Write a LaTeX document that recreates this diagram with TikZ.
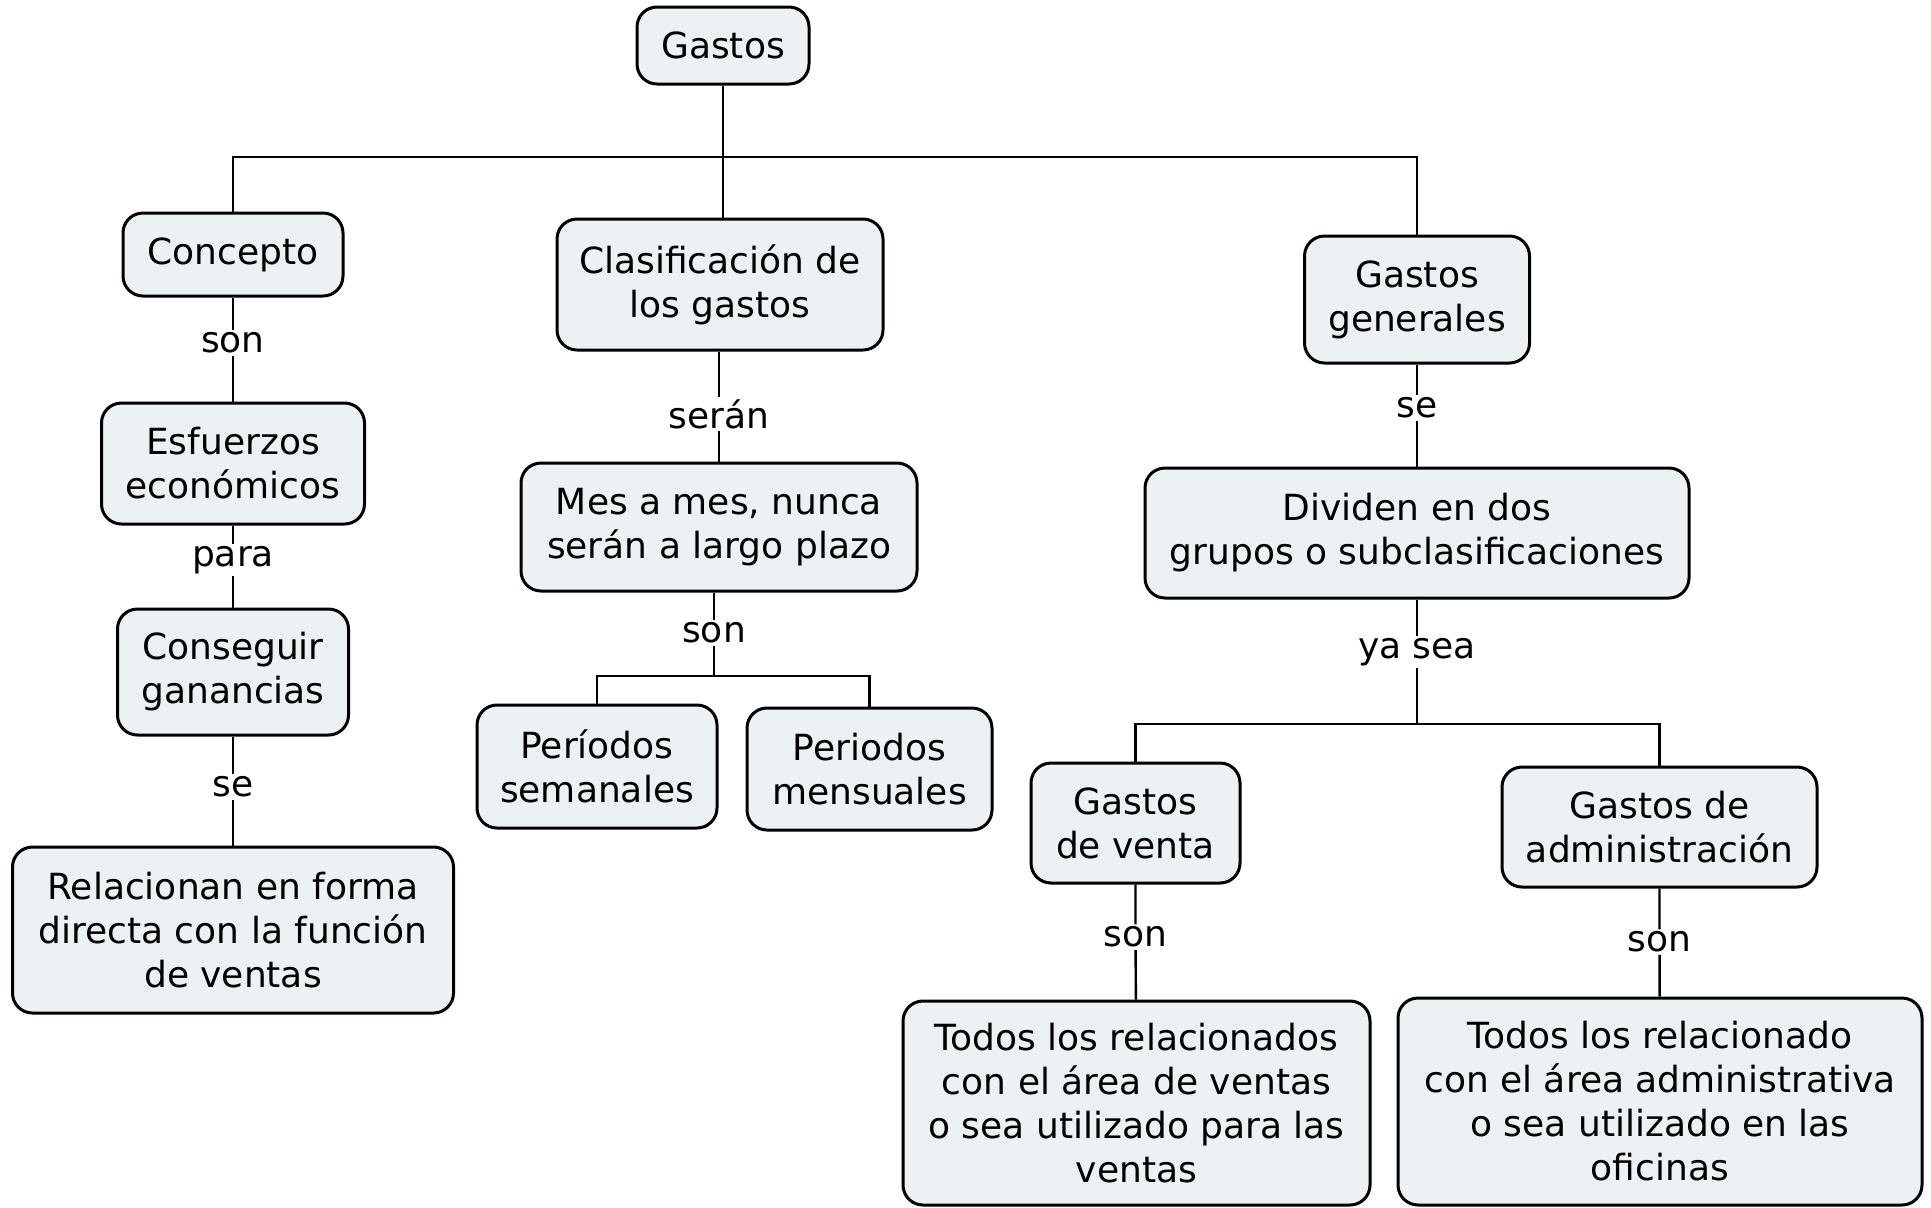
\documentclass[tikz,border=0pt]{standalone}
\usepackage{fontspec}
\setmainfont{DejaVu Sans}
\definecolor{boxfill}{RGB}{236,242,244}
\begin{document}
\begin{tikzpicture}[x=0.5pt,y=-0.5pt,
  every node/.style={font=\fontsize{18}{22}\selectfont},
  box/.style={draw=black, line width=1.5pt, fill=boxfill, rounded corners=10pt,
    align=center, inner sep=0pt},
  lbl/.style={fill=white, inner sep=1pt},
  conn/.style={line width=1.2pt, black}]
\useasboundingbox (0,0) rectangle (1931,1207);

% boxes
\node[box, minimum width=86pt, minimum height=38.5pt] (gastos) at (723,45.5) {Gastos};
\node[box, minimum width=110pt, minimum height=41.5pt] (concepto) at (233,254.5) {Concepto};
\node[box, minimum width=163pt, minimum height=65.5pt] (clas) at (720,284.5) {Clasificación de\\los gastos};
\node[box, minimum width=112.5pt, minimum height=63.5pt] (gg) at (1417,299.5) {Gastos\\generales};
\node[box, minimum width=131.5pt, minimum height=60.5pt] (esf) at (233,463.5) {Esfuerzos\\económicos};
\node[box, minimum width=115.5pt, minimum height=63pt] (cons) at (233,672) {Conseguir\\ganancias};
\node[box, minimum width=220.5pt, minimum height=83pt] (rel) at (233,930) {Relacionan en forma\\directa con la función\\de ventas};
\node[box, minimum width=198pt, minimum height=64pt] (mes) at (719,527) {Mes a mes, nunca\\serán a largo plazo};
\node[box, minimum width=120pt, minimum height=61.5pt] (sem) at (597,766.5) {Períodos\\semanales};
\node[box, minimum width=122.5pt, minimum height=61pt] (men) at (869.5,769) {Periodos\\mensuales};
\node[box, minimum width=272pt, minimum height=65pt] (div) at (1417,533) {Dividen en dos\\grupos o subclasificaciones};
\node[box, minimum width=104.5pt, minimum height=60pt] (gv) at (1135.5,823) {Gastos\\de venta};
\node[box, minimum width=157.5pt, minimum height=60pt] (ga) at (1659.5,827) {Gastos de\\administración};
\node[box, minimum width=233.5pt, minimum height=102pt] (tv) at (1136.5,1103) {Todos los relacionados\\con el área de ventas\\o sea utilizado para las\\ventas};
\node[box, minimum width=262pt, minimum height=103.5pt] (ta) at (1660,1101.5) {Todos los relacionado\\con el área administrativa\\o sea utilizado en las\\oficinas};

% junctions
\coordinate (j0) at (723,157);
\coordinate (j1) at (714,676);
\coordinate (j2) at (1417,724);

% labels
\node[lbl] (l1) at (233,343) {son};
\node[lbl] (l2) at (233,560) {para};
\node[lbl] (l3) at (233,787) {se};
\node[lbl] (l4) at (719,414) {serán};
\node[lbl] (l5) at (714,633) {son};
\node[lbl] (l6) at (1417,408) {se};
\node[lbl] (l7) at (1417,652) {ya sea};
\node[lbl] (l8) at (1135.5,937) {son};
\node[lbl] (l9) at (1659.5,942) {son};

% connectors
\draw[conn] (gastos) -- (j0);
\draw[conn] (concepto.north) |- (j0) -| (gg.north);
\draw[conn] (j0) -- (j0 |- clas.north);
\draw[conn] (concepto) -- (l1) -- (esf);
\draw[conn] (esf) -- (l2) -- (cons);
\draw[conn] (cons) -- (l3) -- (rel);
\draw[conn] (clas.south -| l4) -- (l4) -- (mes.north);
\draw[conn] (mes.south -| j1) -- (l5) -- (j1);
\draw[conn] (sem.north) |- (j1) -| (men.north);
\draw[conn] (gg) -- (l6) -- (div);
\draw[conn] (div) -- (l7) -- (j2);
\draw[conn] (gv.north) |- (j2) -| (ga.north);
\draw[conn] (gv) -- (l8) -- (tv);
\draw[conn] (ga) -- (l9) -- (ta);
\end{tikzpicture}
\end{document}
